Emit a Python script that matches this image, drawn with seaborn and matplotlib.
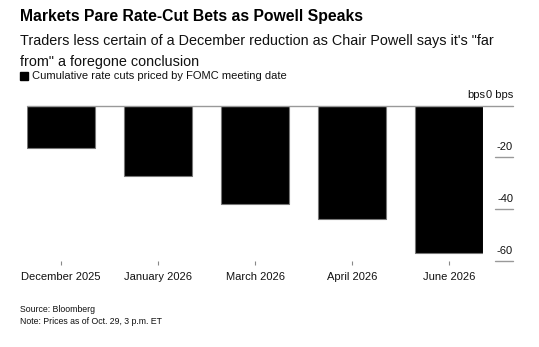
import matplotlib
matplotlib.use("Agg")
import matplotlib.pyplot as plt
import matplotlib.transforms as mtransforms
import pandas as pd
import seaborn as sns

# Cumulative rate cuts priced, by FOMC meeting (bps)
meetings = ["December 2025", "January 2026", "March 2026", "April 2026", "June 2026"]
cuts_bps = [-16.3, -27.2, -37.8, -43.6, -56.8]
y_ticks = [0, -20, -40, -60]
y_tick_labels = ["0 bps", "-20", "-40", "-60"]

title = "Markets Pare Rate-Cut Bets as Powell Speaks"
subtitle = "Traders less certain of a December reduction as Chair Powell says it's \"far\nfrom\" a foregone conclusion"
legend_label = "Cumulative rate cuts priced by FOMC meeting date"
source = "Source: Bloomberg\nNote: Prices as of Oct. 29, 3 p.m. ET"

sns.set_theme(style="white")
plt.rcParams["font.family"] = ["Liberation Sans", "DejaVu Sans"]

df = pd.DataFrame({"meeting": meetings, "cuts": cuts_bps})

W, H = 539, 347
fig = plt.figure(figsize=(W / 100, H / 100), dpi=100)
ax = fig.add_axes([27 / W, 1 - 261 / H, 456 / W, 155.3 / H])

sns.barplot(data=df, x="meeting", y="cuts", color="black", width=0.7,
            edgecolor="#777777", linewidth=0.8, saturation=1, ax=ax)

ax.set_xlim(-0.35, len(meetings) - 1 + 0.35)
ax.set_ylim(-60, 0)
ax.set_xlabel("")
ax.set_ylabel("")
for s in ax.spines.values():
    s.set_visible(False)
ax.set_yticks([])
ax.tick_params(axis="x", length=3, width=0.8, color="#888888", pad=5,
               labelsize=8, labelcolor="#111111", bottom=True)

# Right-side value scale: short rules with labels sitting above them
x0 = (495 - 27) / 456
x1 = (513 - 27) / 456
blend = mtransforms.blended_transform_factory(ax.transAxes, ax.transData)
for v, lab in zip(y_ticks, y_tick_labels):
    if v == 0:
        ax.plot([0, x1], [v, v], transform=blend, color="#999999", lw=1.0,
                clip_on=False, zorder=3)
    else:
        ax.plot([x0, x1], [v, v], transform=blend, color="#999999", lw=1.0,
                clip_on=False)
    off = mtransforms.offset_copy(blend, fig=fig, y=7.5, units="points")
    ax.text(x1, v, lab, transform=off, ha="right", va="center",
            fontsize=8, color="#111111")
off0 = mtransforms.offset_copy(blend, fig=fig, x=-19.7, y=7.5, units="points")
ax.text(x1, 0, "bps", transform=off0, ha="right", va="center",
        fontsize=8, color="#111111")

# Header
fig.text(20 / W, 1 - 16 / H, title, fontsize=11.3, fontweight="bold",
         ha="left", va="center", color="black")
fig.text(20 / W, 1 - 51.5 / H, subtitle, fontsize=10.4, ha="left", va="center",
         color="#111111", linespacing=1.7)
fig.patches.append(plt.Rectangle((20 / W, 1 - 80 / H), 8 / W, 8 / H,
                                 transform=fig.transFigure, color="black"))
fig.text(32 / W, 1 - 76 / H, legend_label, fontsize=8, ha="left", va="center",
         color="#111111")

# Footer
fig.text(20 / W, 1 - 315.5 / H, source, fontsize=6.3, ha="left", va="center",
         color="#111111", linespacing=1.35)

fig.savefig("out.png", dpi=100)
